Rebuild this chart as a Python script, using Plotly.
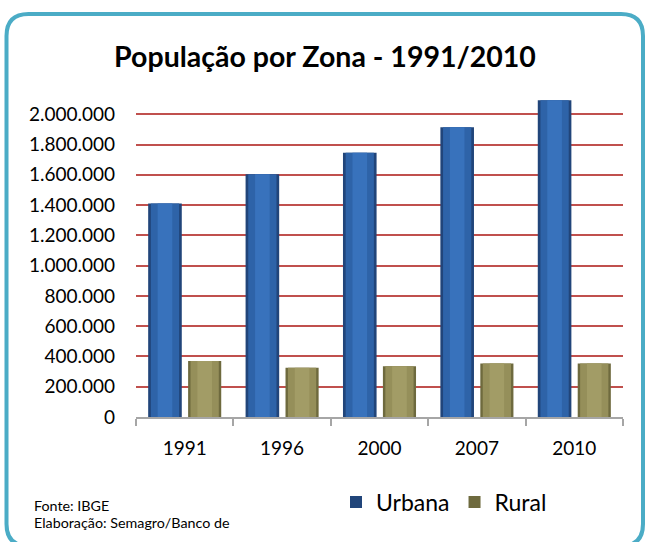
import plotly.graph_objects as go

years = ["1991", "1996", "2000", "2007", "2010"]
urbana = [1410000, 1604000, 1745000, 1914000, 2092000]
rural = [370000, 325000, 335000, 354000, 354000]
tick_vals = [0, 200000, 400000, 600000, 800000, 1000000, 1200000, 1400000, 1600000, 1800000, 2000000]
tick_text = ["0", "200.000", "400.000", "600.000", "800.000", "1.000.000", "1.200.000",
             "1.400.000", "1.600.000", "1.800.000", "2.000.000"]

W, H = 645, 542
L, R, T, B = 136, 22, 84, 125
PW, PH = W - L - R, H - T - B

def px(x):
    return (x - L) / PW

def py(y):
    return (H - B - y) / PH

FONT = "Lato, 'Open Sans', sans-serif"

fig = go.Figure()

# Urban bars (edge layer + inner layers)
fig.add_trace(go.Bar(x=years, y=urbana, name="Urbana", width=0.345, offset=-0.375,
                     marker=dict(color="#21457A", line=dict(width=0)), showlegend=True))
fig.add_trace(go.Bar(x=years, y=urbana, name="Urbana", width=0.29, offset=-0.3475,
                     marker=dict(color="#2E63A8", line=dict(width=0)), showlegend=False,
                     hoverinfo="skip"))
fig.add_trace(go.Bar(x=years, y=urbana, name="Urbana", width=0.15, offset=-0.2775,
                     marker=dict(color="#3872BC", line=dict(width=0)), showlegend=False,
                     hoverinfo="skip"))
# Rural bars
fig.add_trace(go.Bar(x=years, y=rural, name="Rural", width=0.34, offset=0.035,
                     marker=dict(color="#6E6A3E", line=dict(width=0)), showlegend=True))
fig.add_trace(go.Bar(x=years, y=rural, name="Rural", width=0.29, offset=0.06,
                     marker=dict(color="#958F5A", line=dict(width=0)), showlegend=False,
                     hoverinfo="skip"))
fig.add_trace(go.Bar(x=years, y=rural, name="Rural", width=0.15, offset=0.13,
                     marker=dict(color="#A29C66", line=dict(width=0)), showlegend=False,
                     hoverinfo="skip"))

r = 22
x0, y0, x1, y1 = 6.5, 14, 643, 546
path = (f"M {px(x0)},{py(y0 + r)} "
        f"Q {px(x0)},{py(y0)} {px(x0 + r)},{py(y0)} "
        f"L {px(x1 - r)},{py(y0)} "
        f"Q {px(x1)},{py(y0)} {px(x1)},{py(y0 + r)} "
        f"L {px(x1)},{py(y1 - r)} "
        f"Q {px(x1)},{py(y1)} {px(x1 - r)},{py(y1)} "
        f"L {px(x0 + r)},{py(y1)} "
        f"Q {px(x0)},{py(y1)} {px(x0)},{py(y1 - r)} Z")

fig.update_layout(
    width=W, height=H,
    margin=dict(l=L, r=R, t=T, b=B),
    paper_bgcolor="white", plot_bgcolor="white",
    barmode="overlay",
    title=dict(text="<b>População por Zona - 1991/2010</b>", x=325 / W, xanchor="center",
               y=1 - 57 / H, yanchor="middle", yref="container",
               font=dict(family=FONT, size=28.5, color="black")),
    font=dict(family=FONT, color="black"),
    xaxis=dict(showgrid=False, showline=True, linecolor="#A6A6A6", linewidth=1.5,
               ticks="outside", tickson="boundaries", ticklen=7, tickcolor="#A6A6A6",
               tickwidth=1.5, ticklabelstandoff=13,
               tickfont=dict(family=FONT, size=19, color="black"), fixedrange=True),
    yaxis=dict(range=[0, 2200000], tickvals=tick_vals, ticktext=tick_text,
               showgrid=True, gridcolor="#C0504D", gridwidth=2, zeroline=False,
               showline=False, ticks="", ticklabelstandoff=20,
               tickfont=dict(family=FONT, size=19, color="black"), fixedrange=True),
    legend=dict(orientation="h", x=px(336), xanchor="left", y=py(502), yanchor="middle",
                font=dict(family=FONT, size=23, color="black"), itemwidth=30,
                bgcolor="rgba(0,0,0,0)", traceorder="normal"),
    shapes=[dict(type="path", path=path, xref="paper", yref="paper",
                 line=dict(color="#4BACC6", width=4), fillcolor="rgba(0,0,0,0)", layer="above")],
    annotations=[
        dict(text="Fonte: IBGE", x=px(32), y=py(505), xref="paper", yref="paper",
             xanchor="left", yanchor="middle", showarrow=False,
             font=dict(family=FONT, size=14.3, color="black")),
        dict(text="Elaboração: Semagro/Banco de", x=px(32), y=py(522), xref="paper", yref="paper",
             xanchor="left", yanchor="middle", showarrow=False,
             font=dict(family=FONT, size=14.3, color="black")),
    ],
)

fig.write_html("out.html", config={"displayModeBar": False},
               post_script="document.body.style.margin='0';document.body.style.overflow='hidden';")
